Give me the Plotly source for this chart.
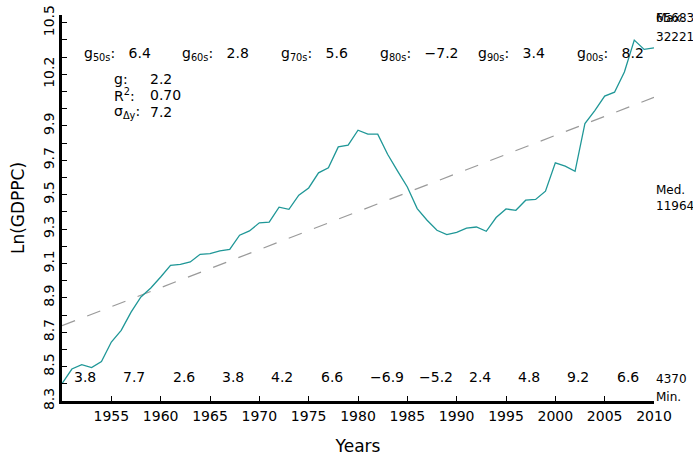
import plotly.graph_objects as go

# Annual log GDP per capita
years = list(range(1950, 2011))
ln_gdppc = [
    8.401, 8.486, 8.511, 8.494, 8.530, 8.643, 8.711, 8.817, 8.905, 8.957,
    9.021, 9.089, 9.095, 9.109, 9.153, 9.157, 9.173, 9.182, 9.264, 9.289,
    9.336, 9.340, 9.427, 9.415, 9.497, 9.539, 9.627, 9.656, 9.778, 9.788,
    9.875, 9.852, 9.852, 9.735, 9.638, 9.545, 9.419, 9.351, 9.293, 9.268,
    9.281, 9.305, 9.312, 9.287, 9.367, 9.417, 9.409, 9.468, 9.472, 9.520,
    9.685, 9.666, 9.636, 9.914, 9.989, 10.073, 10.096, 10.214, 10.399, 10.345,
    10.354,
]

# Linear trend endpoints
trend_years = [1950, 2010]
trend_vals = [8.738, 10.066]

# Five-year growth rates (label starts one year into each period)
five_year_starts = [1951, 1956, 1961, 1966, 1971, 1976, 1981, 1986, 1991, 1996, 2001, 2006]
five_year_growth = [3.8, 7.7, 2.6, 3.8, 4.2, 6.6, -6.9, -5.2, 2.4, 4.8, 9.2, 6.6]

# Decade growth rates
decade_starts = [1952, 1962, 1972, 1982, 1992, 2002]
decade_names = ["50s", "60s", "70s", "80s", "90s", "00s"]
decade_growth = [6.4, 2.8, 5.6, -7.2, 3.4, 8.2]

# Summary statistics
stat_g = 2.2
stat_r2 = 0.70
stat_sigma = 7.2
level_max = 32221
level_max_overlay = 65683
level_med = 11964
level_min = 4370

# Axis ticks
ytick_vals = [8.3, 8.5, 8.7, 8.9, 9.1, 9.3, 9.5, 9.7, 9.9, 10.2, 10.5]
xtick_vals = [1955, 1960, 1965, 1970, 1975, 1980, 1985, 1990, 1995, 2000, 2005, 2010]

FONT = "DejaVu Sans"
TEAL = "#1f9797"


def fmt(v, nd=1):
    s = f"{abs(v):.{nd}f}"
    return ("\u2212" + s) if v < 0 else s


fig = go.Figure()
fig.add_trace(go.Scatter(
    x=trend_years, y=trend_vals, mode="lines",
    line=dict(color="#9a9a9a", width=1.2, dash="14px,13px"),
    hoverinfo="skip", showlegend=False,
))
fig.add_trace(go.Scatter(
    x=years, y=ln_gdppc, mode="lines",
    line=dict(color=TEAL, width=1.3),
    showlegend=False,
))

ann = []
nb = "\u00a0"

for yr, v in zip(five_year_starts, five_year_growth):
    ann.append(dict(x=yr, y=8.437, xref="x", yref="y", text=fmt(v),
                    xanchor="left", yanchor="middle", showarrow=False,
                    font=dict(family=FONT, size=14, color="black")))

for yr, nm, v in zip(decade_starts, decade_names, decade_growth):
    ann.append(dict(x=yr, y=10.318, xref="x", yref="y",
                    text=f"g<sub>{nm}</sub>:{nb*3}{fmt(v)}",
                    xanchor="left", yanchor="middle", showarrow=False,
                    font=dict(family=FONT, size=14, color="black")))

stat_rows = [("g:", fmt(stat_g), 10.172),
             ("R<sup>2</sup>:", f"{stat_r2:.2f}", 10.079),
             ("\u03c3<sub>\u0394y</sub>:", fmt(stat_sigma), 9.982)]
for lab, val, yv in stat_rows:
    ann.append(dict(x=1955.07, y=yv, xref="x", yref="y", text=lab,
                    xanchor="left", yanchor="middle", showarrow=False,
                    font=dict(family=FONT, size=14, color="black")))
    ann.append(dict(x=1958.7, y=yv, xref="x", yref="y", text=val,
                    xanchor="left", yanchor="middle", showarrow=False,
                    font=dict(family=FONT, size=14, color="black")))

side = [("Max.", 10.527), (str(level_max_overlay), 10.527), (str(level_max), 10.415),
        ("Med.", 9.525), (str(level_med), 9.433),
        (str(level_min), 8.426), ("Min.", 8.321)]
for txt, yv in side:
    ann.append(dict(x=1.0, y=yv, xref="paper", yref="y", text=txt,
                    xanchor="left", yanchor="middle", showarrow=False,
                    font=dict(family=FONT, size=12, color="black")))

fig.update_layout(
    width=693, height=456,
    margin=dict(l=62, r=39, t=15, b=55, autoexpand=False),
    paper_bgcolor="white", plot_bgcolor="white",
    annotations=ann,
    xaxis=dict(
        range=[1950, 2010], tickvals=xtick_vals, automargin=False,
        ticks="inside", ticklen=5, tickwidth=1, tickcolor="black",
        showline=True, linecolor="black", linewidth=2.5,
        showgrid=False, zeroline=False,
        tickfont=dict(family=FONT, size=14, color="black"),
        title=dict(text="Years", font=dict(family=FONT, size=17, color="black"), standoff=19),
    ),
    yaxis=dict(
        range=[8.3, 10.545], tickvals=ytick_vals, automargin=False,
        ticktext=[f"{v:.1f}" for v in ytick_vals],
        ticks="inside", ticklen=5, tickwidth=1, tickcolor="black",
        minor=dict(dtick=0.1, tick0=8.3, ticks="inside", ticklen=5, tickwidth=1,
                   tickcolor="black", showgrid=False),
        tickangle=-90,
        showline=True, linecolor="black", linewidth=2.5,
        showgrid=False, zeroline=False,
        tickfont=dict(family=FONT, size=14, color="black"),
        title=dict(text="Ln(GDPPC)", font=dict(family=FONT, size=17, color="black"), standoff=12),
    ),
)

fig.write_html("out.html")
